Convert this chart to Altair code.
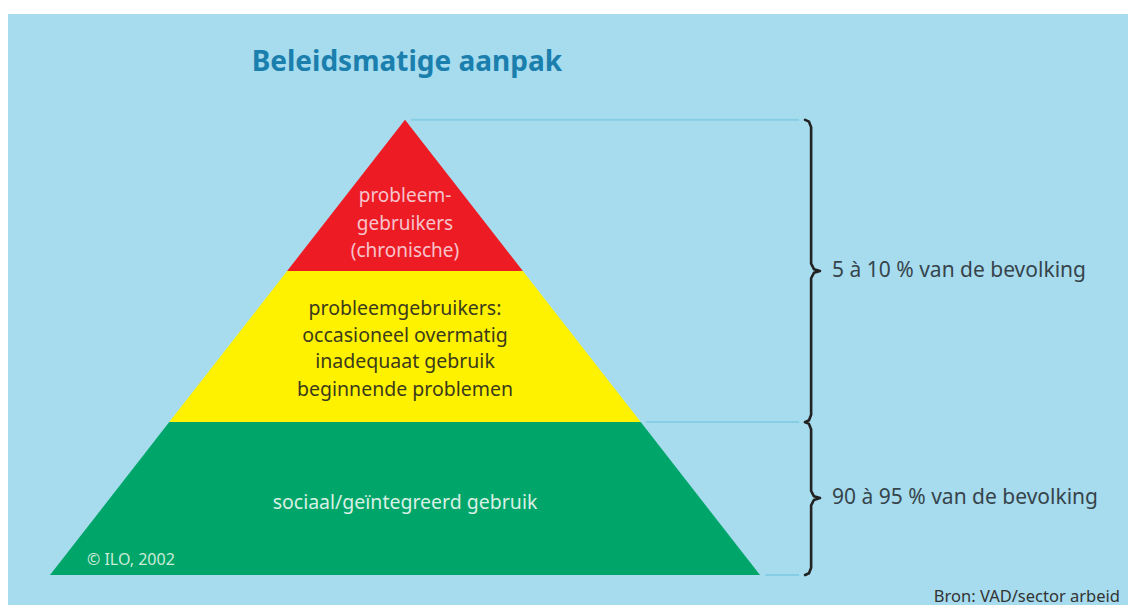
import altair as alt
import pandas as pd

# ---- data ----
layers = ["chronisch", "problematisch", "sociaal"]
layer_top = [0.0, 0.332, 0.664]      # depth from apex (0) to base (1)
layer_bottom = [0.332, 0.664, 1.0]
layer_colors = ["#ed1c24", "#fff200", "#00a669"]

red_lines = ["probleem-", "gebruikers", "(chronische)"]
red_y = [0.168, 0.229, 0.288]
yellow_lines = ["probleemgebruikers:", "occasioneel overmatig", "inadequaat gebruik", "beginnende problemen"]
yellow_y = [0.415, 0.474, 0.532, 0.593]
green_lines = ["sociaal/geïntegreerd gebruik"]
green_y = [0.841]

side_labels = ["5 à 10 % van de bevolking", "90 à 95 % van de bevolking"]
side_y = [0.333, 0.830]
brace_ranges = [(0.0, 0.332, 0.664), (0.664, 0.831, 1.0)]
guide_levels = [0.0, 0.664, 1.0]

title_text = "Beleidsmatige aanpak"
credit_text = "© ILO, 2002"
source_text = "Bron: VAD/sector arbeid"

BG = "#a6dcee"

# ---- geometry tables (pyramid half-width grows linearly with depth) ----
rows = []
for name, t, b in zip(layers, layer_top, layer_bottom):
    for d in (t, b):
        rows.append({"layer": name, "depth": d, "left": -d, "right": d})
pyr = pd.DataFrame(rows)

guides = pd.DataFrame({
    "g": [str(i) for i in range(len(guide_levels))],
    "depth": guide_levels,
    "x1": [lvl + 0.015 if lvl > 0 else 0.017 for lvl in guide_levels],
    "x2": [1.11] * len(guide_levels),
})

brace_rows = []
xv, xh, xt = 1.144, 1.127, 1.169
for i, (y0, ym, y1) in enumerate(brace_ranges):
    pts = [(xh, y0), (1.138, y0 + 0.004), (xv, y0 + 0.016), (xv, ym - 0.016),
           (1.152, ym - 0.004), (xt, ym), (1.152, ym + 0.004), (xv, ym + 0.016),
           (xv, y1 - 0.016), (1.138, y1 - 0.004), (xh, y1)]
    for k, (px, py) in enumerate(pts):
        brace_rows.append({"b": str(i), "k": k, "x": px, "y": py})
braces = pd.DataFrame(brace_rows)

xs = alt.Scale(domain=[-1.1183, 2.0366], nice=False, zero=False)
ys = alt.Scale(domain=[-0.2325, 1.0658], nice=False, zero=False, reverse=True)
FONT = "Noto Sans"

pyramid = alt.Chart(pyr).mark_area(orient="horizontal", opacity=1).encode(
    y=alt.Y("depth:Q", scale=ys, axis=None),
    x=alt.X("left:Q", scale=xs, axis=None),
    x2="right:Q",
    color=alt.Color("layer:N", scale=alt.Scale(domain=layers, range=layer_colors), legend=None),
)

guide_lines = alt.Chart(guides).mark_rule(color="#86cde6", strokeWidth=2).encode(
    y=alt.Y("depth:Q", scale=ys, axis=None),
    x=alt.X("x1:Q", scale=xs, axis=None),
    x2="x2:Q",
)

brace_marks = alt.Chart(braces).mark_line(color="#222222", strokeWidth=2.6, strokeCap="round",
                                           strokeJoin="round").encode(
    x=alt.X("x:Q", scale=xs, axis=None),
    y=alt.Y("y:Q", scale=ys, axis=None),
    detail="b:N",
    order="k:Q",
)


def text_layer(lines, ys_vals, xval, color, size, align="center", weight="normal"):
    df = pd.DataFrame({"t": lines, "y": ys_vals, "x": [xval] * len(lines)})
    return alt.Chart(df).mark_text(
        font=FONT, fontSize=size, color=color, align=align, baseline="middle", fontWeight=weight
    ).encode(
        x=alt.X("x:Q", scale=xs, axis=None),
        y=alt.Y("y:Q", scale=ys, axis=None),
        text="t:N",
    )


title = text_layer([title_text], [-0.124], -0.432, "#1b7fae", 28, align="left", weight="bold")
red_t = text_layer(red_lines, red_y, 0.0, "#f7c3cc", 19)
yel_t = text_layer(yellow_lines, yellow_y, 0.0, "#3b3a1c", 19.5)
grn_t = text_layer(green_lines, green_y, 0.0, "#d9f0e4", 19.5)
credit = text_layer([credit_text], [0.966], -0.896, "#cdebd9", 16, align="left")
side = text_layer(side_labels, side_y, 1.203, "#37444c", 21, align="left")
source = text_layer([source_text], [1.049], 2.014, "#333333", 16.5, align="right")

chart = alt.layer(
    pyramid, guide_lines, brace_marks, title, red_t, yel_t, grn_t, credit, side, source
).properties(
    width=1120,
    height=598,
    padding={"top": 6, "left": 0, "right": 0, "bottom": 0},
    autosize=alt.AutoSizeParams(type="fit", contains="padding"),
    background="white",
).configure_view(fill=BG, stroke=None)

chart.save("out.html", embed_options={"renderer": "svg", "actions": False})
